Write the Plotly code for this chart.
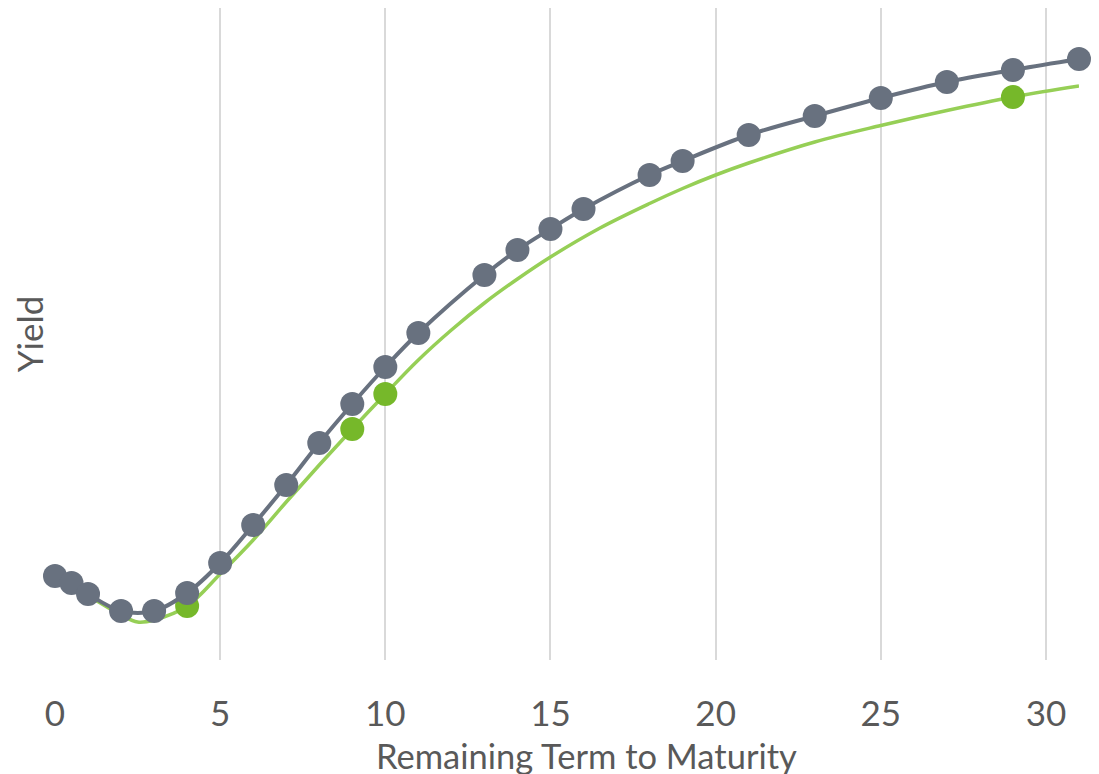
import plotly.graph_objects as go

# Observed yields (gray)
obs_term = [0, 0.5, 1, 2, 3, 4, 5, 6, 7, 8, 9, 10, 11, 13, 14, 15, 16, 18, 19, 21, 23, 25, 27, 29, 31]
obs_yield = [0.84, 0.77, 0.66, 0.49, 0.49, 0.67, 0.97, 1.35, 1.75, 2.17, 2.56, 2.93, 3.27, 3.85,
             4.10, 4.31, 4.51, 4.85, 4.99, 5.25, 5.44, 5.62, 5.78, 5.90, 6.01]

# Fitted curve (green line)
fit_term = [0, 1, 2, 2.5, 3, 4, 5, 6, 7, 8, 9, 10, 11, 12, 13, 14, 15, 16.5, 18, 19, 20, 21,
            23, 25, 27, 29, 31]
fit_yield = [0.80, 0.64, 0.45, 0.38, 0.40, 0.54, 0.86, 1.20, 1.58, 1.95, 2.31, 2.66, 3.00, 3.30,
             3.57, 3.81, 4.03, 4.32, 4.565, 4.715, 4.85, 4.97, 5.18, 5.345, 5.495, 5.63, 5.74]

# Highlighted points (green markers)
hl_term = [4, 9, 10, 29]
hl_yield = [0.54, 2.31, 2.66, 5.63]

x_ticks = [0, 5, 10, 15, 20, 25, 30]

GRAY = "#68717f"
GREEN_LINE = "#96cf56"
GREEN_MARK = "#76b82a"
TEXT = "#595959"
FONT = "Lato"
FS = 35

fig = go.Figure()
fig.add_trace(go.Scatter(x=fit_term, y=fit_yield, mode="lines",
                         line=dict(color=GREEN_LINE, width=3.5, shape="spline", smoothing=1.0),
                         cliponaxis=False, showlegend=False))
fig.add_trace(go.Scatter(x=hl_term, y=hl_yield, mode="markers",
                         marker=dict(color=GREEN_MARK, size=24),
                         cliponaxis=False, showlegend=False))
fig.add_trace(go.Scatter(x=obs_term, y=obs_yield, mode="lines+markers",
                         line=dict(color=GRAY, width=4, shape="spline"),
                         marker=dict(color=GRAY, size=24),
                         cliponaxis=False, showlegend=False))

fig.add_annotation(text="Remaining Term to Maturity", xref="paper", yref="paper",
                   x=0.5186, y=-0.146, xanchor="center", yanchor="middle", showarrow=False,
                   font=dict(size=34.5, color=TEXT, family=FONT))

fig.update_layout(
    width=1099, height=774,
    margin=dict(l=47, r=28, t=0, b=122),
    paper_bgcolor="white", plot_bgcolor="white",
    font=dict(family=FONT, color=TEXT, size=FS),
    xaxis=dict(range=[0, 31], tickvals=x_ticks, showgrid=True, gridcolor="#d9d9d9", gridwidth=2,
               zeroline=False, showline=False, ticks="", ticklabelstandoff=30,
               tickfont=dict(size=FS, color=TEXT, family=FONT),
               automargin=False),
    yaxis=dict(range=[0, 6.52], showgrid=False, zeroline=False, showline=False,
               showticklabels=False, ticks="",
               title=dict(text="Yield", standoff=3, font=dict(size=FS, color=TEXT, family=FONT)),
               automargin=False),
)

fig.write_html("out.html")
